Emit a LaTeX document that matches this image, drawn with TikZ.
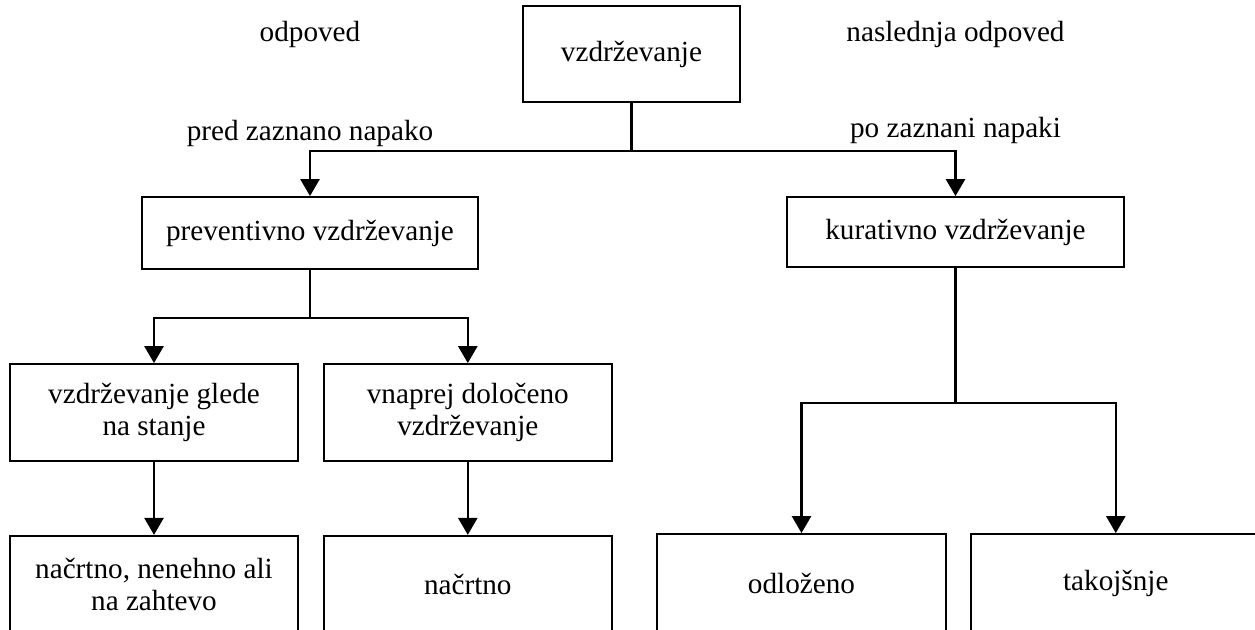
\documentclass[tikz,border=0pt]{standalone}
\usepackage{fontspec}
\setmainfont{Liberation Serif}
\usetikzlibrary{arrows.meta,positioning}
\tikzstyle{box} = [rectangle, draw=black, line width=0.9pt, text centered, align=center, font=\fontsize{14.6}{16}\selectfont, minimum width=144pt, minimum height=48.5pt, inner sep=0pt]
\tikzstyle{textonly} = [draw=none, fill=none, text centered, font=\fontsize{14.6}{16}\selectfont]
\tikzstyle{tline} = [draw, line width=1.3pt]
\tikzstyle{tedge} = [draw, line width=1.3pt, -{Triangle[width=9.5pt,length=8.5pt]}]

\begin{document}
\begin{tikzpicture}[x=0.5pt, y=-0.5pt]
\useasboundingbox (0,0) rectangle (1255,630);

% boxes =============================

% top
\node[box, minimum width=108.5pt, minimum height=48pt] (vzd) at (631.5,54) {vzdrževanje};

% second row
\node[box, minimum width=168pt, minimum height=36pt] (prev) at (310,233) {preventivno vzdrževanje};
\node[box, minimum width=168.5pt, minimum height=35pt] (kur) at (955.5,232) {kurativno vzdrževanje};

% third row
\node[box] (glede) at (154,412.5) {vzdrževanje glede\\na stanje};
\node[box, right=12pt of glede] (vnaprej) {vnaprej določeno\\vzdrževanje};

% bottom row (runs out of the frame)
\node[box, minimum height=49pt, below=36.5pt of glede] (ncr1) {načrtno, nenehno ali\\na zahtevo};
\node[box, minimum height=49pt, below=36.5pt of vnaprej] (ncr2) {načrtno};
\node[box, minimum width=144.5pt, minimum height=49pt] (odl) at (801.5,583) {odloženo};
\node[box, minimum width=145pt, minimum height=49pt, right=11.5pt of odl] (tak) {takojšnje};

% labels
\node[textonly, above=77.5pt of prev.north, anchor=base] (odp) {odpoved};
\node[textonly, above=28pt of prev.north, anchor=base] (pred) {pred zaznano napako};
\node[textonly, above=77.5pt of kur.north, anchor=base] (nasodp) {naslednja odpoved};
\node[textonly, above=29.5pt of kur.north, anchor=base] (po) {po zaznani napaki};

% junctions
\path (vzd.south) ++(0,48) coordinate (j1);
\path (prev.south) ++(0,48) coordinate (j2);
\path (kur.south) ++(0,135) coordinate (j3);

%edges
\path[tline] (vzd.south) -- (j1);
\path[tedge] (j1) -| (prev.north);
\path[tedge] (j1) -| (kur.north);
\path[tline] (prev.south) -- (j2);
\path[tedge] (j2) -| (glede.north);
\path[tedge] (j2) -| (vnaprej.north);
\path[tline] (kur.south) -- (j3);
\path[tedge] (j3) -| (odl.north);
\path[tedge] (j3) -| (tak.north);
\path[tedge] (glede) -- (ncr1);
\path[tedge] (vnaprej) -- (ncr2);

\end{tikzpicture}
\end{document}
